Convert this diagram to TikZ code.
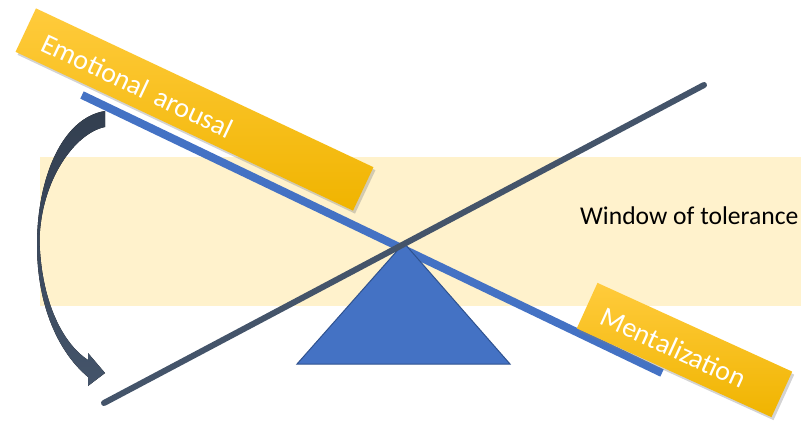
\documentclass[tikz,border=0pt]{standalone}
\usepackage{fontspec}
\setmainfont{Carlito}
\usetikzlibrary{shadows}
\definecolor{bandc}{HTML}{FFF2CC}
\definecolor{beamc}{HTML}{4472C4}
\definecolor{beamdark}{HTML}{2F528F}
\definecolor{slate}{HTML}{44546A}
\definecolor{slatedark}{HTML}{333F50}
\definecolor{goldtop}{HTML}{FFCB3C}
\definecolor{goldbot}{HTML}{F0B400}
\tikzset{
  goldbox/.style={top color=goldtop, bottom color=goldbot, text=white,
    font=\fontsize{28}{30}\selectfont, align=left, inner ysep=0pt,
    drop shadow={shadow xshift=2pt, shadow yshift=-3pt, opacity=0.35}},
  beamline/.style={draw=beamc, line width=8pt},
  leverline/.style={draw=slate, line width=6pt, line cap=round}
}
\begin{document}
\begin{tikzpicture}[x=1pt,y=-1pt]
\useasboundingbox (0,0) rectangle (801,421);
% window of tolerance band
\fill[bandc] (40,157) rectangle (801,306);
\node[anchor=base west, font=\fontsize{25.6}{27}\selectfont, inner sep=0pt] (wot) at (580,224) {Window of tolerance};
% blue beam
\coordinate (b1) at (82,95);
\coordinate (b2) at (662,373);
\draw[beamline] (b1) -- (b2);
% fulcrum
\coordinate (apex) at (404,243);
\coordinate (bl) at (297,364);
\coordinate (br) at (510,364);
\filldraw[fill=beamc, draw=beamdark, line width=1pt, line join=miter] (apex) -- (br) -- (bl) -- cycle;
% lever line
\coordinate (l1) at (104,403);
\coordinate (l2) at (704,85);
\draw[leverline] (l1) -- (l2);
% curved arrow
\fill[top color=slatedark, bottom color=slate]
  (105,111) .. controls (62,118) and (37,178) .. (37,245)
  .. controls (37,305) and (58,352) .. (88,377)
  -- (88,386) -- (105,373) -- (88,353) -- (88,360)
  .. controls (62,343) and (41,300) .. (39.5,240)
  .. controls (41,180) and (75,133) .. (105,127) -- cycle;
% gold boxes
\node[goldbox, rotate=-25.2, minimum height=48pt, inner xsep=20.6pt, text width=331.8pt,
      text height=25pt, text depth=0pt] (ea) at (194.5,109.5) {Emotional arousal};
\node[goldbox, rotate=-24.5, minimum height=50pt, inner xsep=17.8pt, text width=178.4pt,
      text height=24pt, text depth=0pt] (ment) at (684.5,350) {Mentalization};
\end{tikzpicture}
\end{document}
